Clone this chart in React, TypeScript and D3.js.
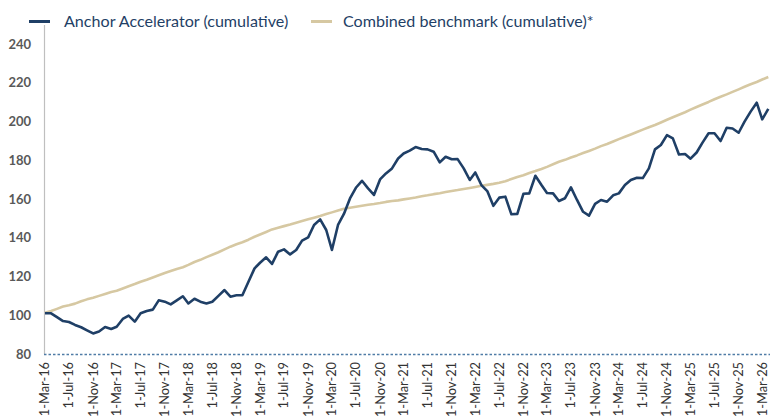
import React from "react";
import * as d3 from "d3";

const startMonth = new Date(2016, 2, 1);
const monthCount = 122;

const anchorValues = [
  101, 101, 99, 97, 96.5, 95, 93.8, 92.2, 90.6, 91.6,
  93.9, 92.9, 94.1, 98.1, 99.8, 96.7, 101, 102.2, 102.9, 107.7,
  107, 105.6, 107.7, 109.8, 106.1, 108.5, 107, 106.1, 107, 110,
  113, 109.6, 110.3, 110.3, 117.3, 124.2, 127.1, 129.9, 126.5, 132.8,
  134, 131.4, 133.7, 138.5, 140.2, 146.6, 149.5, 144, 133.7, 146.6,
  152.3, 160.3, 165.8, 169.4, 165.5, 162.1, 170.1, 173.2, 175.8, 180.9,
  183.5, 185, 186.8, 185.8, 185.6, 184.4, 178.9, 181.8, 180.5, 180.6,
  175.8, 169.8, 173.7, 167.2, 164.1, 156.5, 160.7, 161.2, 152.1, 152.3,
  162.7, 162.9, 172, 167.2, 163.1, 162.9, 159, 160.4, 166, 159.5,
  153.4, 151.4, 157.5, 159.5, 158.6, 161.9, 162.9, 167.2, 169.8, 171,
  170.8, 175.8, 185.6, 187.9, 193, 191.3, 183, 183.2, 180.8, 184,
  189.1, 193.9, 193.9, 189.9, 196.8, 196.4, 194.2, 199.9, 205.1, 209.7,
  201.1, 206.5,
];

const benchmarkValues = [
  101.3, 102.2, 103.3, 104.5, 105.2, 106, 107.2, 108.2, 109, 110,
  111, 112, 112.6, 113.8, 115, 116.1, 117.3, 118.3, 119.5, 120.6,
  121.8, 122.8, 123.9, 124.8, 126, 127.5, 128.6, 130, 131.2, 132.5,
  134, 135.4, 136.6, 137.7, 139, 140.5, 141.7, 143, 144.3, 145.2,
  146, 146.8, 147.8, 148.6, 149.5, 150.3, 151.2, 152.2, 153.1, 154.1,
  155, 155.5, 156, 156.5, 157, 157.4, 157.9, 158.5, 159, 159.3,
  159.8, 160.3, 160.8, 161.4, 161.9, 162.5, 163, 163.6, 164.1, 164.6,
  165.2, 165.7, 166.2, 166.8, 167.3, 167.8, 168.4, 169.2, 170.3, 171.4,
  172.3, 173.4, 174.4, 175.5, 176.6, 177.9, 179.2, 180.2, 181.4, 182.5,
  183.7, 184.8, 186, 187.3, 188.4, 189.7, 190.9, 192.1, 193.3, 194.6,
  195.8, 197, 198.2, 199.5, 200.9, 202.2, 203.5, 204.8, 206.1, 207.5,
  208.8, 210.1, 211.5, 212.8, 214, 215.3, 216.6, 217.9, 219.2, 220.4,
  221.7, 223,
];

const yTicks = [80, 100, 120, 140, 160, 180, 200, 220, 240];

const xTickLabels = [
  "1-Mar-16", "1-Jul-16", "1-Nov-16", "1-Mar-17", "1-Jul-17", "1-Nov-17",
  "1-Mar-18", "1-Jul-18", "1-Nov-18", "1-Mar-19", "1-Jul-19", "1-Nov-19",
  "1-Mar-20", "1-Jul-20", "1-Nov-20", "1-Mar-21", "1-Jul-21", "1-Nov-21",
  "1-Mar-22", "1-Jul-22", "1-Nov-22", "1-Mar-23", "1-Jul-23", "1-Nov-23",
  "1-Mar-24", "1-Jul-24", "1-Nov-24", "1-Mar-25", "1-Jul-25", "1-Nov-25",
  "1-Mar-26",
];

const seriesNames = ["Anchor Accelerator (cumulative)", "Combined benchmark (cumulative)*"];

const BLUE = "#1F3F66";
const TAN = "#D6C8A2";

export default function App() {
  const width = 770;
  const height = 417;
  const months = d3.range(monthCount).map((i) => d3.timeMonth.offset(startMonth, i));
  const x = d3.scaleTime().domain([months[0], months[monthCount - 1]]).range([45, 768.3]);
  const y = d3.scaleLinear().domain([80, 240]).range([354, 44]);

  const line = d3
    .line<number>()
    .x((_, i) => x(months[i]))
    .y((d) => y(d))
    .curve(d3.curveLinear);

  const font = "Lato, 'Open Sans', sans-serif";

  return (
    <svg
      width={width}
      height={height}
      style={{ position: "absolute", left: 0, top: 0, background: "#fff" }}
      fontFamily={font}
    >
      {/* legend */}
      <line x1={29} x2={50} y1={21.5} y2={21.5} stroke={BLUE} strokeWidth={3} />
      <text x={64} y={26.5} fontSize={16.1} fill={BLUE}>
        {seriesNames[0]}
      </text>
      <line x1={311} x2={332} y1={21.5} y2={21.5} stroke={TAN} strokeWidth={3} />
      <text x={343} y={26.5} fontSize={16.1} fill={BLUE}>
        {seriesNames[1]}
      </text>

      {/* y axis */}
      <line x1={44.5} x2={44.5} y1={25} y2={354} stroke="#BFBFBF" strokeWidth={1.2} />
      {yTicks.map((t) => (
        <text
          key={t}
          x={31}
          y={y(t)}
          dy="0.35em"
          textAnchor="end"
          fontSize={13}
          fontWeight={700}
          fill="#595959"
        >
          {t}
        </text>
      ))}

      {/* x axis */}
      <line
        x1={44}
        x2={770}
        y1={354.5}
        y2={354.5}
        stroke="#4F7CA6"
        strokeWidth={1.3}
        strokeDasharray="2.5,2"
      />
      {xTickLabels.map((lab, k) => {
        const px = x(months[k * 4]);
        return (
          <text
            key={lab}
            transform={`translate(${px},362) rotate(-90)`}
            dy="0.35em"
            textAnchor="end"
            fontSize={12.8}
            fill="#333333"
          >
            {lab}
          </text>
        );
      })}

      {/* series */}
      <path d={line(benchmarkValues) || ""} fill="none" stroke={TAN} strokeWidth={2.6} strokeLinejoin="round" />
      <path d={line(anchorValues) || ""} fill="none" stroke={BLUE} strokeWidth={2.6} strokeLinejoin="round" />
    </svg>
  );
}
